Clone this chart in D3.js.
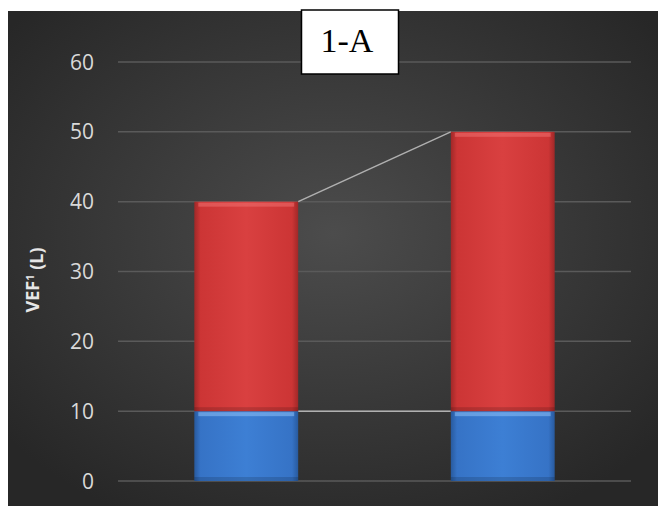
<!DOCTYPE html>
<html>
<head>
<meta charset="utf-8">
<script src="https://cdn.jsdelivr.net/npm/d3@7"></script>
<style>
  html, body { margin: 0; padding: 0; background: #fff; }
  svg { display: block; }
</style>
</head>
<body>
<svg id="chart" width="658" height="506"></svg>
<script>
const categories = ['A', 'B']
const baseValues = [10, 10]
const topValues = [30, 40]
const yTicks = [0, 10, 20, 30, 40, 50, 60]
const titleText = '1-A'
const axisTitle = 'VEF'

const svg = d3.select('#chart')
const width = 658
const height = 506
const margin = { top: 62, right: 27, bottom: 25, left: 118 }
const innerW = width - margin.left - margin.right
const innerH = height - margin.top - margin.bottom
const uiFont = "'Open Sans', 'Liberation Sans', sans-serif"

const defs = svg.append('defs')
const bg = defs.append('radialGradient').attr('id', 'bg')
  .attr('cx', '50%').attr('cy', '45%').attr('r', '65%')
bg.append('stop').attr('offset', '0%').attr('stop-color', '#4c4c4c')
bg.append('stop').attr('offset', '100%').attr('stop-color', '#272727')

function barGrad(id, light, mid, dark) {
  const g = defs.append('linearGradient').attr('id', id).attr('x1', 0).attr('x2', 1).attr('y1', 0).attr('y2', 0)
  g.append('stop').attr('offset', '0%').attr('stop-color', dark)
  g.append('stop').attr('offset', '6%').attr('stop-color', mid)
  g.append('stop').attr('offset', '50%').attr('stop-color', light)
  g.append('stop').attr('offset', '94%').attr('stop-color', mid)
  g.append('stop').attr('offset', '100%').attr('stop-color', dark)
}
barGrad('red', '#d94040', '#cc3535', '#a02828')
barGrad('blue', '#3d7fd4', '#3673c6', '#285a9e')

svg.append('rect').attr('x', 8).attr('y', 11).attr('width', width - 8).attr('height', height - 11)
  .attr('fill', 'url(#bg)')

const root = svg.append('g').attr('transform', `translate(${margin.left},${margin.top})`)

const x = d3.scaleBand().domain(categories).range([0, innerW]).paddingInner(0.595).paddingOuter(0.2975)
const y = d3.scaleLinear().domain([0, 60]).range([innerH, 0])

// gridlines
root.append('g').selectAll('line').data(yTicks).join('line')
  .attr('x1', 0).attr('x2', innerW)
  .attr('y1', d => y(d)).attr('y2', d => y(d))
  .attr('stroke', '#5a5a5a').attr('stroke-width', 1.5)

// tick labels
root.append('g').selectAll('text').data(yTicks).join('text')
  .attr('x', -24).attr('y', d => y(d)).attr('dy', '0.36em')
  .attr('text-anchor', 'end')
  .attr('fill', '#d9d9d9')
  .style('font-family', uiFont)
  .style('font-size', '21px')
  .text(d => d)

// axis title
const at = root.append('text')
  .attr('transform', `translate(${39 - margin.left},${280 - margin.top}) rotate(-90)`)
  .attr('text-anchor', 'middle')
  .attr('fill', '#e6e6e6')
  .style('font-family', uiFont)
  .style('font-weight', 'bold')
  .style('font-size', '18px')
at.append('tspan').text(axisTitle)
at.append('tspan').attr('dy', '-0.5em').style('font-size', '11px').text('1')
at.append('tspan').attr('dy', '0.5em').text(' (L)')

// series lines
const bw = x.bandwidth()
const stackTops = topValues.map((v, i) => v + baseValues[i])
root.append('line')
  .attr('x1', x(categories[0]) + bw).attr('y1', y(stackTops[0]))
  .attr('x2', x(categories[1])).attr('y2', y(stackTops[1]))
  .attr('stroke', '#b0b0b0').attr('stroke-width', 1.5)
root.append('line')
  .attr('x1', x(categories[0]) + bw).attr('y1', y(baseValues[0]))
  .attr('x2', x(categories[1])).attr('y2', y(baseValues[1]))
  .attr('stroke', '#b0b0b0').attr('stroke-width', 1.5)

// bars
function drawSeg(cat, v0, v1, fill, hl) {
  const bx = x(cat), by = y(v1), bh = y(v0) - y(v1)
  root.append('rect').attr('x', bx).attr('y', by).attr('width', bw).attr('height', bh).attr('fill', fill)
  root.append('rect').attr('x', bx + 4).attr('y', by + 1).attr('width', bw - 8).attr('height', 4)
    .attr('fill', hl).attr('opacity', 0.55)
  root.append('rect').attr('x', bx).attr('y', by + bh - 4).attr('width', bw).attr('height', 4)
    .attr('fill', '#000').attr('opacity', 0.15)
}
categories.forEach((c, i) => {
  drawSeg(c, 0, baseValues[i], 'url(#blue)', '#8cc0f5')
  drawSeg(c, baseValues[i], stackTops[i], 'url(#red)', '#ee7070')
})

// title box
const tb = svg.append('g')
tb.append('rect').attr('x', 301.5).attr('y', 10).attr('width', 97).attr('height', 64)
  .attr('fill', '#fff').attr('stroke', '#000').attr('stroke-width', 1.5)
tb.append('text').attr('x', 347).attr('y', 52)
  .attr('text-anchor', 'middle')
  .style('font-family', "'Liberation Serif', 'Times New Roman', serif")
  .style('font-size', '34px')
  .attr('fill', '#000')
  .text(titleText)
</script>
</body>
</html>
